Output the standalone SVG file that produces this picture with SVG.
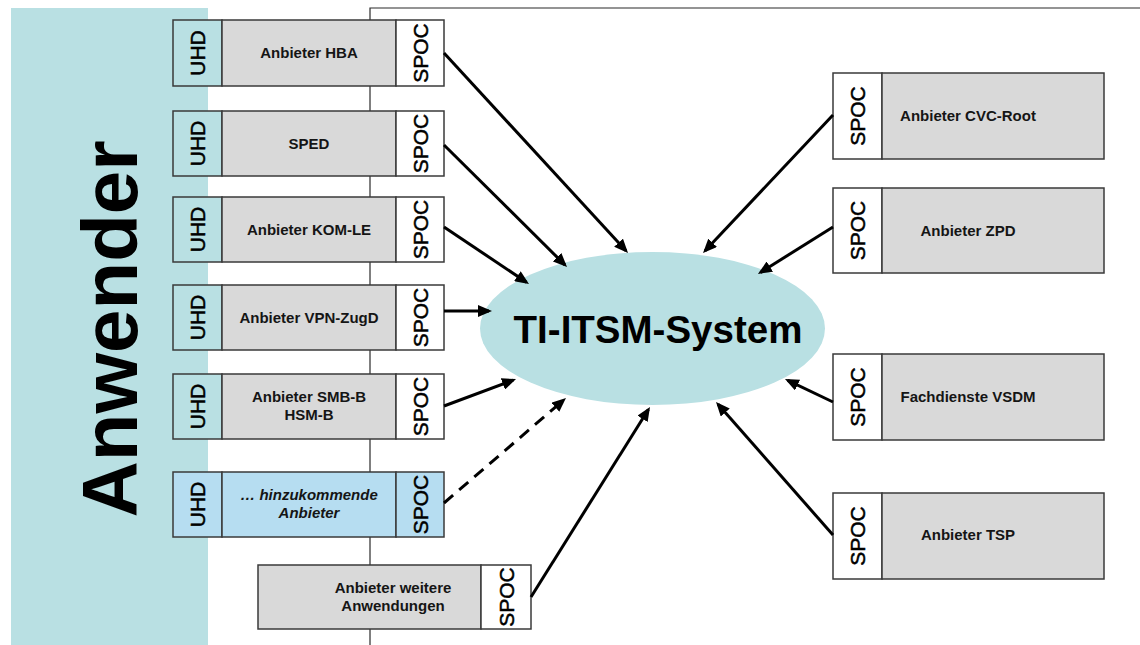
<svg xmlns="http://www.w3.org/2000/svg" width="1140" height="645" viewBox="0 0 1140 645">
<style>
.frame{fill:none;stroke:#2b2b2b;stroke-width:1.2}
.box{stroke:#3a3a3a;stroke-width:1.5}
.gray{fill:#d9d9d9}
.teal{fill:#b9e0e3}
.white{fill:#ffffff}
.blue{fill:#b6ddf1}
.lbl{font-family:"Liberation Sans",Arial,sans-serif;font-weight:bold;font-size:15px;fill:#151515;text-anchor:middle}
.it{font-style:italic}
.vt{font-family:"Liberation Sans",Arial,sans-serif;font-weight:normal;font-size:21px;fill:#000;text-anchor:middle;stroke:#000;stroke-width:0.5}
.vu{font-family:"Liberation Sans",Arial,sans-serif;font-weight:normal;font-size:21px;fill:#000;text-anchor:middle;stroke:#000;stroke-width:0.5}
.arr{stroke:#000;stroke-width:3;fill:none;marker-end:url(#ah)}
.dash{stroke-dasharray:12 8}
</style>
<defs>
<marker id="ah" viewBox="0 0 14 12" refX="11" refY="6" markerWidth="14" markerHeight="12" markerUnits="userSpaceOnUse" orient="auto">
<path d="M0,0 L14,6 L0,12 z" fill="#000"/>
</marker>
</defs>
<rect width="1140" height="645" fill="#fff"/>
<g id="frame">
<path class="frame" d="M370,645 V8 H1140"/>
</g>
<g id="anwender">
<rect x="11" y="8" width="197" height="637" class="teal"/>
<text transform="translate(108.5,329) rotate(-90)" x="0" y="28.5" font-family="Liberation Sans,Arial,sans-serif" font-weight="bold" font-size="78" text-anchor="middle" fill="#000">Anwender</text>
</g>
<g id="hba">
<rect x="173" y="20" width="49" height="66" class="box teal"/>
<rect x="222" y="20" width="174" height="66" class="box gray"/>
<rect x="396" y="20" width="48" height="66" class="box white"/>
<text transform="translate(197.5,53) rotate(-90)" y="7.5" class="vu">UHD</text>
<text x="309" y="58" class="lbl">Anbieter HBA</text>
<text transform="translate(420,53) rotate(-90)" y="7.5" class="vt">SPOC</text>
</g>
<g id="sped">
<rect x="173" y="111" width="49" height="65" class="box teal"/>
<rect x="222" y="111" width="174" height="65" class="box gray"/>
<rect x="396" y="111" width="48" height="65" class="box white"/>
<text transform="translate(197.5,143.5) rotate(-90)" y="7.5" class="vu">UHD</text>
<text x="309" y="148.5" class="lbl">SPED</text>
<text transform="translate(420,143.5) rotate(-90)" y="7.5" class="vt">SPOC</text>
</g>
<g id="komle">
<rect x="173" y="197" width="49" height="65" class="box teal"/>
<rect x="222" y="197" width="174" height="65" class="box gray"/>
<rect x="396" y="197" width="48" height="65" class="box white"/>
<text transform="translate(197.5,229.5) rotate(-90)" y="7.5" class="vu">UHD</text>
<text x="309" y="234.5" class="lbl">Anbieter KOM-LE</text>
<text transform="translate(420,229.5) rotate(-90)" y="7.5" class="vt">SPOC</text>
</g>
<g id="vpn">
<rect x="173" y="285" width="49" height="65" class="box teal"/>
<rect x="222" y="285" width="174" height="65" class="box gray"/>
<rect x="396" y="285" width="48" height="65" class="box white"/>
<text transform="translate(197.5,317.5) rotate(-90)" y="7.5" class="vu">UHD</text>
<text x="309" y="322.5" class="lbl">Anbieter VPN-ZugD</text>
<text transform="translate(420,317.5) rotate(-90)" y="7.5" class="vt">SPOC</text>
</g>
<g id="smb">
<rect x="173" y="374" width="49" height="65" class="box teal"/>
<rect x="222" y="374" width="174" height="65" class="box gray"/>
<rect x="396" y="374" width="48" height="65" class="box white"/>
<text transform="translate(197.5,406.5) rotate(-90)" y="7.5" class="vu">UHD</text>
<text x="309" y="402" class="lbl">Anbieter SMB-B</text>
<text x="309" y="420" class="lbl">HSM-B</text>
<text transform="translate(420,406.5) rotate(-90)" y="7.5" class="vt">SPOC</text>
</g>
<g id="neu">
<rect x="173" y="472" width="49" height="65" class="box blue"/>
<rect x="222" y="472" width="174" height="65" class="box blue"/>
<rect x="396" y="472" width="48" height="65" class="box blue"/>
<text transform="translate(197.5,504.5) rotate(-90)" y="7.5" class="vu">UHD</text>
<text x="309" y="500" class="lbl it">… hinzukommende</text>
<text x="309" y="518" class="lbl it">Anbieter</text>
<text transform="translate(420,504.5) rotate(-90)" y="7.5" class="vt">SPOC</text>
</g>
<g id="weitere">
<rect x="258" y="565" width="223" height="64" class="box gray"/>
<rect x="481" y="565" width="50" height="64" class="box white"/>
<text x="393" y="593" class="lbl">Anbieter weitere</text>
<text x="393" y="611" class="lbl">Anwendungen</text>
<text transform="translate(506,597) rotate(-90)" y="7.5" class="vt">SPOC</text>
</g>
<g id="cvc">
<rect x="833" y="73" width="49" height="86" class="box white"/>
<rect x="882" y="73" width="222" height="86" class="box gray"/>
<text transform="translate(857.5,116) rotate(-90)" y="7.5" class="vt">SPOC</text>
<text x="968" y="121" class="lbl">Anbieter CVC-Root</text>
</g>
<g id="zpd">
<rect x="833" y="188" width="49" height="85" class="box white"/>
<rect x="882" y="188" width="222" height="85" class="box gray"/>
<text transform="translate(857.5,230.5) rotate(-90)" y="7.5" class="vt">SPOC</text>
<text x="968" y="236" class="lbl">Anbieter ZPD</text>
</g>
<g id="vsdm">
<rect x="833" y="354" width="49" height="86" class="box white"/>
<rect x="882" y="354" width="222" height="86" class="box gray"/>
<text transform="translate(857.5,397) rotate(-90)" y="7.5" class="vt">SPOC</text>
<text x="968" y="402" class="lbl">Fachdienste VSDM</text>
</g>
<g id="tsp">
<rect x="833" y="493" width="49" height="86" class="box white"/>
<rect x="882" y="493" width="222" height="86" class="box gray"/>
<text transform="translate(857.5,536) rotate(-90)" y="7.5" class="vt">SPOC</text>
<text x="968" y="540" class="lbl">Anbieter TSP</text>
</g>
<g id="itsm">
<ellipse cx="652.5" cy="328.5" rx="172.5" ry="76.5" class="teal"/>
<text x="658" y="343" font-family="Liberation Sans,Arial,sans-serif" font-weight="bold" font-size="38.5" text-anchor="middle" fill="#000">TI-ITSM-System</text>
</g>
<g id="connectors">
<line class="arr" x1="444" y1="53" x2="626" y2="250.8"/>
<line class="arr" x1="444" y1="145" x2="564.9" y2="264.9"/>
<line class="arr" x1="444" y1="227" x2="526.5" y2="282.3"/>
<line class="arr" x1="444" y1="311" x2="489" y2="311"/>
<line class="arr" x1="444" y1="406" x2="513.2" y2="380.1"/>
<line class="arr dash" x1="444" y1="503" x2="563.7" y2="400"/>
<line class="arr" x1="531" y1="597" x2="648.4" y2="409.5"/>
<line class="arr" x1="833" y1="115" x2="705.1" y2="250.8"/>
<line class="arr" x1="833" y1="227" x2="760.5" y2="272.4"/>
<line class="arr" x1="833" y1="402" x2="787.7" y2="380.3"/>
<line class="arr" x1="833" y1="535" x2="718" y2="404.3"/>
</g>
</svg>
